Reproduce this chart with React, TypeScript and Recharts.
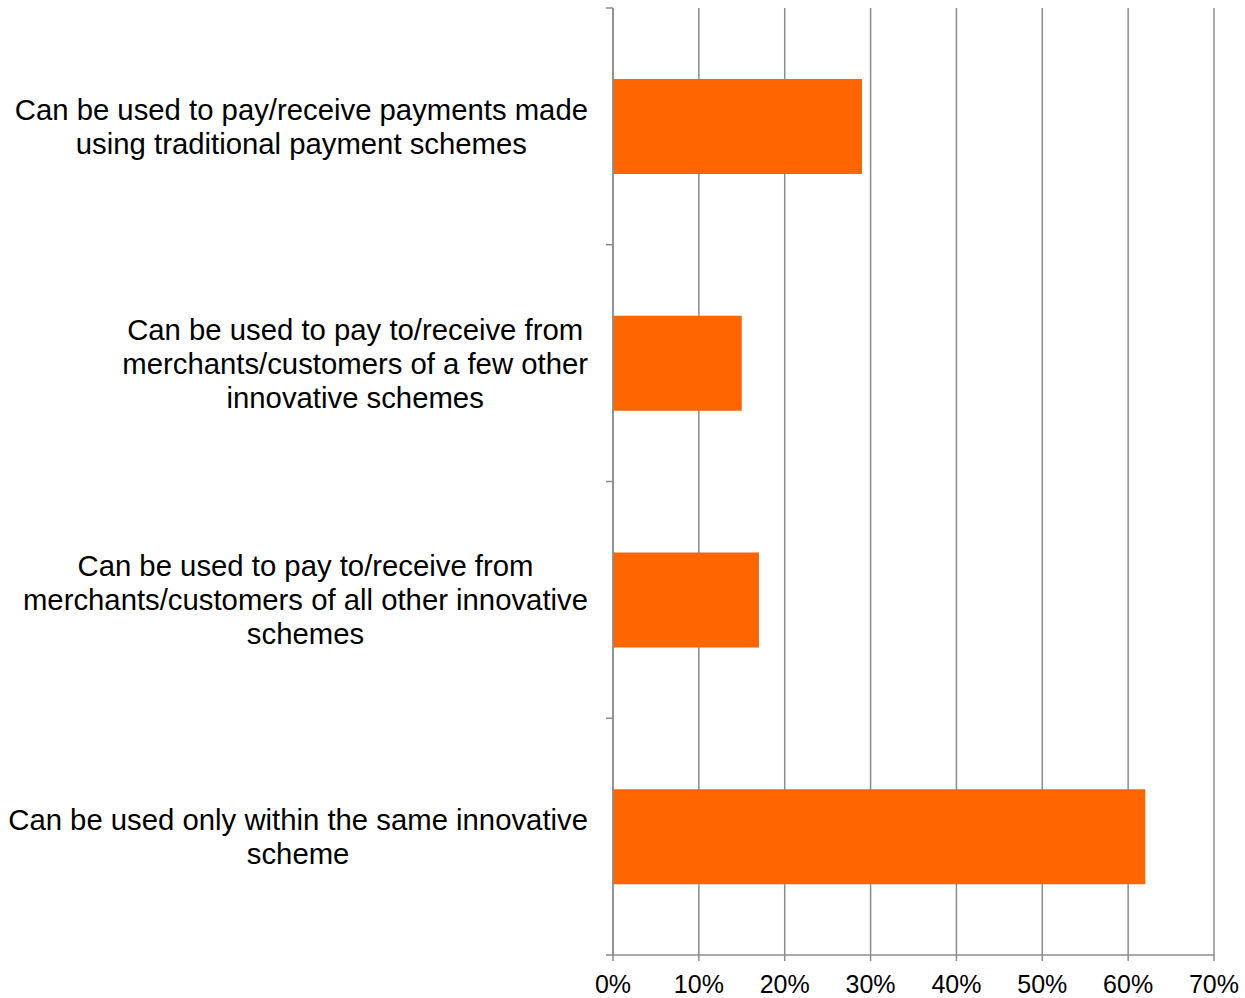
import React from 'react';
import { BarChart, Bar, XAxis, YAxis, CartesianGrid } from 'recharts';

const categories = [
  'Can be used to pay/receive payments made\nusing traditional payment schemes',
  'Can be used to pay to/receive from\nmerchants/customers of a few other\ninnovative schemes',
  'Can be used to pay to/receive from\nmerchants/customers of all other innovative\nschemes',
  'Can be used only within the same innovative\nscheme',
];
const shares = [29, 15, 17, 62];
const xTicks = [0, 10, 20, 30, 40, 50, 60, 70];

const data = categories.map((name, i) => ({ name, value: shares[i] }));

const FONT = '"Liberation Sans", Arial, sans-serif';
const LABEL_SIZE = 29.3;
const LINE_H = 34;
const GAP = 25;
const GRID = '#8c8c8c';

let ctx: CanvasRenderingContext2D | null = null;
const measure = (s: string) => {
  if (!ctx) ctx = document.createElement('canvas').getContext('2d');
  if (!ctx) return s.length * LABEL_SIZE * 0.5;
  ctx.font = `${LABEL_SIZE}px ${FONT}`;
  return ctx.measureText(s).width;
};

// label block centred on its longest line, plus tick marks on the band edges
const CategoryTick = (props: any) => {
  const { x, y, payload, index } = props;
  const lines: string[] = String(payload.value).split('\n');
  const maxW = Math.max(...lines.map(measure));
  const cx = x - maxW / 2;
  const top = y - ((lines.length - 1) * LINE_H) / 2;
  const half = payload.offset || 0;
  const ax = x + GAP;
  return (
    <g>
      {half > 0 && (
        <line x1={ax - 7} x2={ax} y1={y - half} y2={y - half} stroke={GRID} strokeWidth={1.5} />
      )}
      {half > 0 && index === categories.length - 1 && (
        <line x1={ax - 7} x2={ax} y1={y + half} y2={y + half} stroke={GRID} strokeWidth={1.5} />
      )}
      {lines.map((l, i) => (
        <text
          key={i}
          x={cx}
          y={top + i * LINE_H}
          textAnchor="middle"
          dominantBaseline="central"
          fontSize={LABEL_SIZE}
          fontFamily={FONT}
          fill="#000"
        >
          {l}
        </text>
      ))}
    </g>
  );
};

const App: React.FC = () => {
  return (
    <div style={{ position: 'absolute', left: 0, top: 0, background: '#fff' }}>
      <BarChart
        width={1245}
        height={998}
        data={data}
        layout="vertical"
        margin={{ top: 8, right: 31, bottom: 0, left: 0 }}
        barCategoryGap="30%"
      >
        <CartesianGrid horizontal={false} stroke={GRID} strokeWidth={1.5} />
        <XAxis
          type="number"
          domain={[0, 70]}
          ticks={xTicks}
          tickFormatter={(v: number) => `${v}%`}
          axisLine={{ stroke: GRID, strokeWidth: 1.5 }}
          tickLine={{ stroke: GRID, strokeWidth: 1.5 }}
          tickSize={6}
          tickMargin={14}
          height={43}
          tick={{ fill: '#000', fontSize: 25, fontFamily: FONT }}
        />
        <YAxis
          type="category"
          dataKey="name"
          width={613}
          axisLine={{ stroke: GRID, strokeWidth: 1.5 }}
          tickLine={false}
          tickSize={0}
          tickMargin={GAP}
          interval={0}
          tick={<CategoryTick />}
        />
        <Bar dataKey="value" fill="#ff6600" isAnimationActive={false} />
      </BarChart>
    </div>
  );
};

export default App;
